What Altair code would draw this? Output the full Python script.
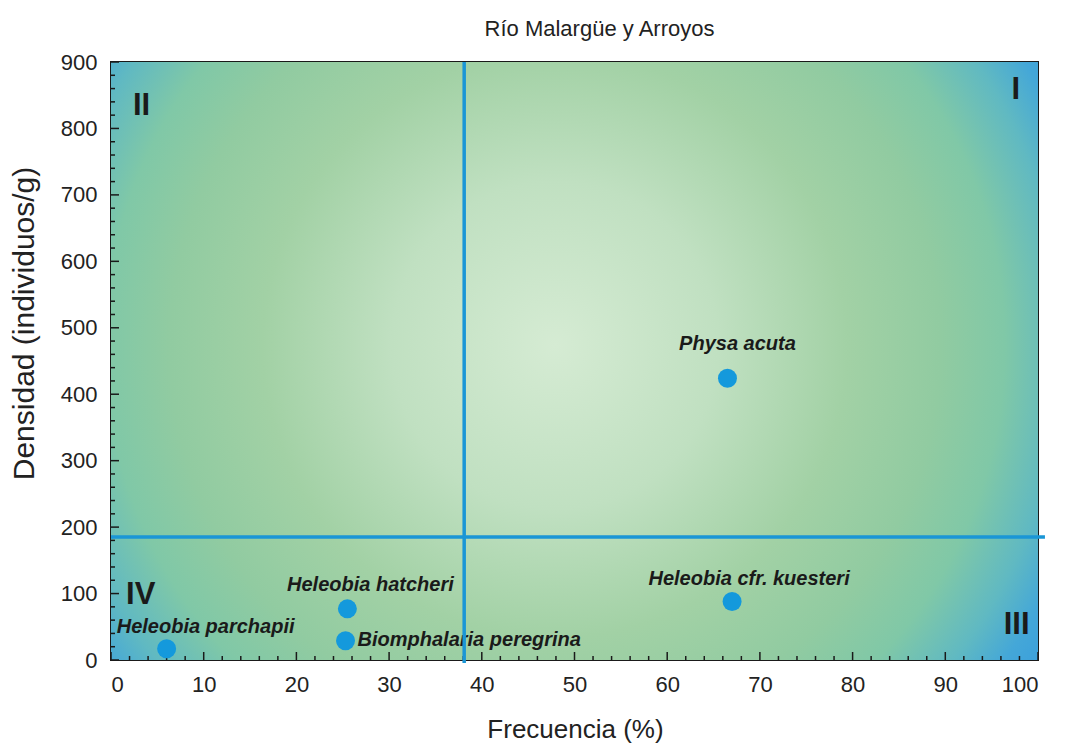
import altair as alt
import pandas as pd

FONT = "Liberation Sans"

# ---- data ----
species = ["Physa acuta", "Heleobia cfr. kuesteri", "Heleobia hatcheri",
           "Biomphalaria peregrina", "Heleobia parchapii"]
frecuencia = [66.5, 67.0, 25.5, 25.3, 6.0]
densidad = [424, 88, 77, 29, 17]

quadrants = ["I", "II", "III", "IV"]
quad_x = [97.6, 3.3, 97.7, 3.2]
quad_y = [858, 834, 53, 98]

freq_cut = 38.1
dens_cut = 185

x_major = [0, 10, 20, 30, 40, 50, 60, 70, 80, 90, 100]
x_minor = [v for v in range(0, 101, 2) if v % 10]
y_major = [0, 100, 200, 300, 400, 500, 600, 700, 800, 900]
y_minor = [v for v in range(0, 901, 20) if v % 100]

W, H = 927, 598
LINE_COLOR = "#1a96d6"
POINT_COLOR = "#1499dc"

df = pd.DataFrame({"species": species, "frecuencia": frecuencia, "densidad": densidad})
qdf = pd.DataFrame({"q": quadrants, "frecuencia": quad_x, "densidad": quad_y})

xscale = alt.Scale(domain=[0, 100], nice=False, zero=False)
yscale = alt.Scale(domain=[0, 900], nice=False, zero=False)

X = alt.X("frecuencia:Q", scale=xscale,
          axis=alt.Axis(values=x_major, title="Frecuencia (%)", labelPadding=14,
                        titleFontSize=26, titleX=464, titleY=69, titleBaseline="middle",
                        titleAlign="center"))
Y = alt.Y("densidad:Q", scale=yscale,
          axis=alt.Axis(values=y_major, title="Densidad (individuos/g)", labelPadding=14,
                        titleFontSize=30, titleX=-87, titleY=261, titleAngle=270,
                        titleBaseline="middle", titleAlign="center"))

gradient = {
    "gradient": "radial",
    "x1": 0.479, "y1": 0.483, "r1": 0,
    "x2": 0.479, "y2": 0.483, "r2": 0.63,
    "stops": [
        {"offset": 0.0, "color": "#d5ebd3"},
        {"offset": 0.28, "color": "#c0e0c1"},
        {"offset": 0.5, "color": "#a2d1a5"},
        {"offset": 0.66, "color": "#91cba1"},
        {"offset": 0.77, "color": "#80c8a7"},
        {"offset": 0.87, "color": "#60b9c2"},
        {"offset": 0.94, "color": "#44a7d8"},
        {"offset": 1.0, "color": "#3a9fdc"},
    ],
}

bg = alt.Chart(alt.Data(values=[{"a": 1}])).mark_rect(fill=gradient, stroke=None).encode(
    x=alt.value(0), x2=alt.value(W), y=alt.value(0), y2=alt.value(H)
)

xt_major = alt.Chart(pd.DataFrame({"frecuencia": x_major})).mark_rule(
    color="#1a1a1a", strokeWidth=1.5).encode(x=X, y=alt.value(H), y2=alt.value(H - 8))
xt_minor = alt.Chart(pd.DataFrame({"frecuencia": x_minor})).mark_rule(
    color="#1a1a1a", strokeWidth=1.5).encode(x=X, y=alt.value(H), y2=alt.value(H - 4))
yt_major = alt.Chart(pd.DataFrame({"densidad": y_major})).mark_rule(
    color="#1a1a1a", strokeWidth=1.5).encode(y=Y, x=alt.value(0), x2=alt.value(8))
yt_minor = alt.Chart(pd.DataFrame({"densidad": y_minor})).mark_rule(
    color="#1a1a1a", strokeWidth=1.5).encode(y=Y, x=alt.value(0), x2=alt.value(4))

vline = alt.Chart(pd.DataFrame({"frecuencia": [freq_cut]})).mark_rule(
    color=LINE_COLOR, strokeWidth=3.5).encode(x=X, y=alt.datum(-4.5), y2=alt.datum(900))
hline = alt.Chart(pd.DataFrame({"densidad": [dens_cut]})).mark_rule(
    color=LINE_COLOR, strokeWidth=3.5).encode(y=Y, x=alt.datum(0), x2=alt.datum(100.75))

points = alt.Chart(df).mark_point(filled=True, size=360, opacity=1, color=POINT_COLOR).encode(
    x=X, y=Y)

offsets = {
    "Physa acuta": (10, -34, "center"),
    "Heleobia cfr. kuesteri": (17, -23, "center"),
    "Heleobia hatcheri": (23, -24, "center"),
    "Biomphalaria peregrina": (12, -1, "left"),
    "Heleobia parchapii": (39, -22, "center"),
}
labels = []
for sp in species:
    dx, dy, al = offsets[sp]
    labels.append(
        alt.Chart(df).transform_filter(alt.datum.species == sp).mark_text(
            dx=dx, dy=dy, align=al, baseline="middle", font=FONT, fontSize=20,
            fontWeight="bold", fontStyle="italic", color="#1a1a1a"
        ).encode(x=X, y=Y, text="species:N")
    )

quad = alt.Chart(qdf).mark_text(
    font=FONT, fontSize=31, fontWeight="bold", color="#1a1a1a",
    align="center", baseline="middle").encode(x=X, y=Y, text="q:N")

chart = alt.layer(
    bg, xt_minor, xt_major, yt_minor, yt_major, points, *labels, quad, vline, hline
).properties(
    width=W, height=H,
    padding={"left": 103, "top": 54, "right": 17, "bottom": 85},
    autosize=alt.AutoSizeParams(type="none"),
    title=alt.TitleParams("Río Malargüe y Arroyos", font=FONT, fontSize=22,
                          fontWeight="normal", color="#222222", anchor="middle",
                          dx=25, offset=10),
).configure_view(
    stroke="#1a1a1a", strokeWidth=2
).configure_axis(
    domain=False, grid=False, ticks=False, labelFont=FONT, labelFontSize=22,
    labelColor="#222222", titleFont=FONT, titleFontWeight="normal", titleColor="#222222"
)

chart.save("out.html", embed_options={"renderer": "svg", "actions": False})
